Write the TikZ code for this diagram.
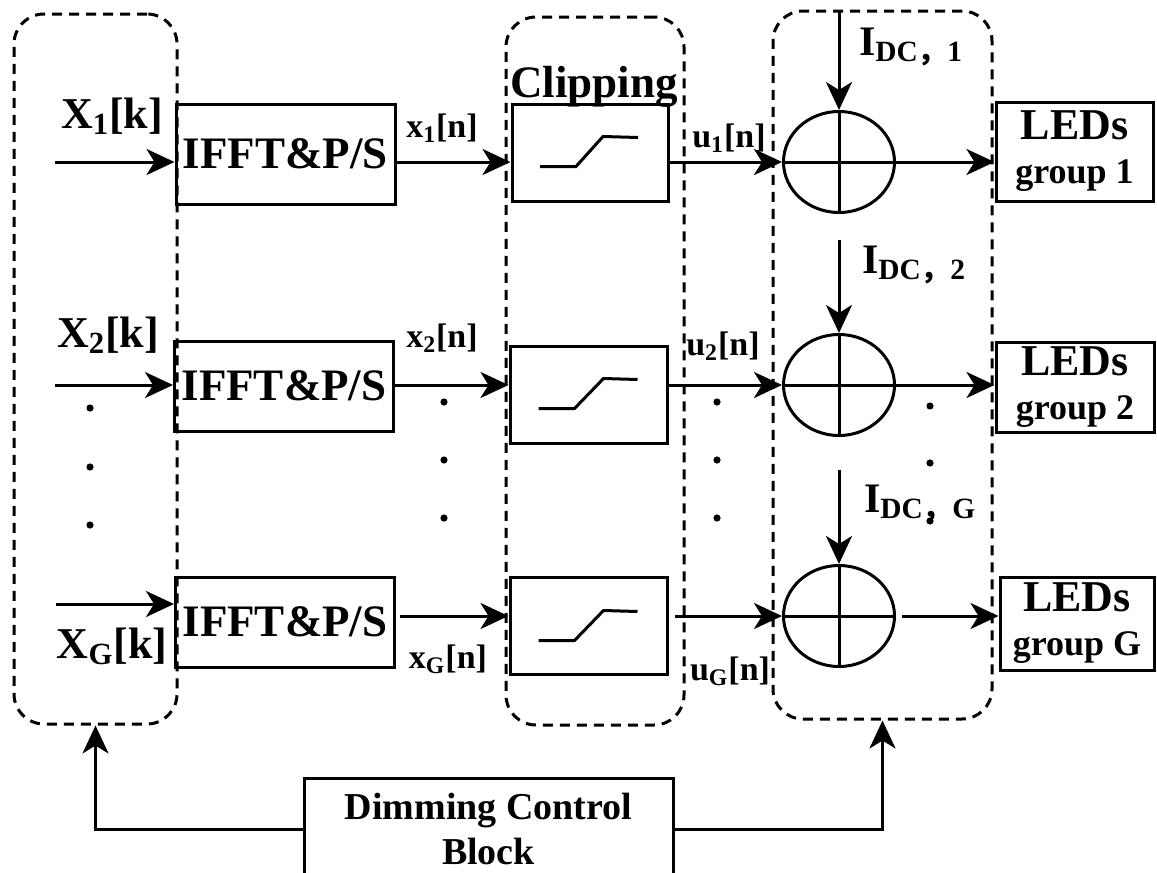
\documentclass[tikz,border=0pt]{standalone}
\usepackage{fontspec}
\setmainfont{Liberation Serif}
\newfontfamily\cjk{Noto Sans CJK SC}
\usetikzlibrary{arrows.meta,shapes.geometric}

\begin{document}
\begin{tikzpicture}[x=0.5pt,y=-0.5pt,font=\bfseries,
  blk/.style={draw,line width=1.5pt,inner sep=0pt},
  grp/.style={draw,line width=1.5pt,dash pattern=on 5pt off 3.5pt,rounded corners=15pt},
  adder/.style={draw,ellipse,line width=1.5pt,minimum width=55.5pt,minimum height=50.5pt,inner sep=0pt},
  arr/.style={line width=1.5pt,-{Stealth[length=14pt,width=13pt,inset=4pt]}},
  blocktxt/.style={font=\fontsize{22.5}{26}\selectfont\bfseries},
  inlbl/.style={font=\fontsize{22}{26}\selectfont\bfseries,anchor=base},
  sig/.style={font=\fontsize{17}{20}\selectfont\bfseries,anchor=base},
  dclbl/.style={font=\fontsize{21}{24}\selectfont\bfseries,anchor=base west},
  leds/.style={blk,align=center,font=\fontsize{22}{22}\selectfont\bfseries},
  vdot/.style={circle,fill,inner sep=0pt,minimum size=3.6pt}]
\clip (0,0) rectangle (1157,873);

% Dashed groups
\node[grp,minimum width=81.5pt,minimum height=355pt] (grp1) at (95.5,369) {};
\node[grp,minimum width=89pt,minimum height=354pt] (grp2) at (595,371) {};
\node[grp,minimum width=109.5pt,minimum height=354pt] (grp3) at (882.5,365) {};

% IFFT blocks
\node[blk,blocktxt,minimum width=109.5pt,minimum height=50pt] (ifft1) at (285.5,154) {IFFT\&P/S};
\node[blk,blocktxt,minimum width=109.5pt,minimum height=45pt] (ifft2) at (284,386) {IFFT\&P/S};
\node[blk,blocktxt,minimum width=109.5pt,minimum height=45pt] (ifftG) at (285,622) {IFFT\&P/S};

% Clipping
\node[blocktxt,anchor=base] (cliptxt) at (594,97) {Clipping};
\node[blk,minimum width=78pt,minimum height=48.5pt] (clip1) at (590,152.5) {};
\node[blk,minimum width=78.5pt,minimum height=48.5pt] (clip2) at (588.5,394.5) {};
\node[blk,minimum width=78.5pt,minimum height=48.5pt] (clipG) at (588.5,625.5) {};
\draw[line width=1.5pt] ([shift={(-50,14)}]clip1.center) -- ++(36,0) -- ++(27,-30) -- ++(35,1);
\draw[line width=1.5pt] ([shift={(-50,14)}]clip2.center) -- ++(36,0) -- ++(29,-30) -- ++(34,1);
\draw[line width=1.5pt] ([shift={(-50,15)}]clipG.center) -- ++(36,0) -- ++(29,-30) -- ++(34,1);

% Adders
\node[adder] (sum1) at (839,162) {};
\node[adder] (sum2) at (839,385) {};
\node[adder] (sumG) at (839,616) {};
\draw[line width=1.5pt] (sum1.north) -- (sum1.south) (sum1.west) -- (sum1.east);
\draw[line width=1.5pt] (sum2.north) -- (sum2.south) (sum2.west) -- (sum2.east);
\draw[line width=1.5pt] (sumG.north) -- (sumG.south) (sumG.west) -- (sumG.east);

% LEDs
\node[leds,minimum width=78.5pt,minimum height=49.5pt] (leds1) at (1074.5,151.5) {LEDs\\{\fontsize{18}{18}\selectfont group 1}};
\node[leds,minimum width=79pt,minimum height=45pt] (leds2) at (1075,387) {LEDs\\{\fontsize{18}{18}\selectfont group 2}};
\node[leds,minimum width=77pt,minimum height=46.5pt] (ledsG) at (1077,623.5) {LEDs\\{\fontsize{18}{18}\selectfont group G}};

% Row 1
\coordinate (in1) at (55,162);
\draw[arr] (in1) -- (in1 -| ifft1.west);
\draw[arr] (ifft1.east |- in1) -- (clip1.west |- in1);
\draw[arr] (clip1.east |- sum1.west) -- (sum1.west);
\draw[arr] (sum1.east) -- (sum1.east -| leds1.west);

% Row 2
\coordinate (in2) at (55,385);
\draw[arr] (in2) -- (in2 -| ifft2.west);
\draw[arr] (ifft2.east |- in2) -- (clip2.west |- in2);
\draw[arr] (clip2.east |- sum2.west) -- (sum2.west);
\draw[arr] (sum2.east) -- (sum2.east -| leds2.west);

% Row G
\coordinate (inG) at (56,604);
\draw[arr] (inG) -- (inG -| ifftG.west);
\draw[arr,shorten <=2pt] (ifftG.east |- sumG.west) -- (clipG.west |- sumG.west);
\draw[arr,shorten <=3pt] (clipG.east |- sumG.west) -- (sumG.west);
\draw[arr,shorten <=3pt] (sumG.east) -- (sumG.east -| ledsG.west);

% DC inputs
\coordinate (dc1) at (839,11);
\coordinate (dc2) at (839,240);
\coordinate (dcG) at (839,470);
\draw[arr] (dc1) -- (sum1.north);
\draw[arr] (dc2) -- (sum2.north);
\draw[arr] (dcG) -- (sumG.north);
\node[dclbl] (ldc1) at (852,55) {I\textsubscript{DC{\cjk ，}1}};
\node[dclbl] (ldc2) at (855,273) {I\textsubscript{DC{\cjk ，}2}};
\node[dclbl] (ldcG) at (857,512) {I\textsubscript{DC{\cjk ，}G}};

% Signal labels
\node[inlbl] (lX1) at (112,128) {X\textsubscript{1}[k]};
\node[inlbl] (lX2) at (108,347) {X\textsubscript{2}[k]};
\node[inlbl] (lXG) at (112,658) {X\textsubscript{G}[k]};
\node[sig] (lx1) at (442,137) {x\textsubscript{1}[n]};
\node[sig] (lx2) at (442,347) {x\textsubscript{2}[n]};
\node[sig] (lxG) at (448,668) {x\textsubscript{G}[n]};
\node[sig] (lu1) at (729,147) {u\textsubscript{1}[n]};
\node[sig] (lu2) at (723,355) {u\textsubscript{2}[n]};
\node[sig] (luG) at (730,680) {u\textsubscript{G}[n]};

% Dots
\node[vdot] (da1) at (90,408) {};
\node[vdot] (da2) at (90,467) {};
\node[vdot] (da3) at (90,525) {};
\node[vdot] (db1) at (444,402) {};
\node[vdot] (db2) at (444,460) {};
\node[vdot] (db3) at (444,518) {};
\node[vdot] (dc1d) at (717,402) {};
\node[vdot] (dc2d) at (717,460) {};
\node[vdot] (dc3d) at (717,518) {};
\node[vdot] (dd1) at (930,406) {};
\node[vdot] (dd2) at (930,463) {};
\node[vdot] (dd3) at (930,521) {};

% Dimming control
\node[blk,anchor=north,minimum width=184.5pt,inner ysep=7.5pt,align=center,font=\fontsize{19}{22.5}\selectfont\bfseries] (dim) at (488.5,777) {Dimming Control\\Block};
\draw[arr] (dim.west) -| (grp1.south);
\draw[arr] (dim.east) -| (grp3.south);
\end{tikzpicture}
\end{document}
